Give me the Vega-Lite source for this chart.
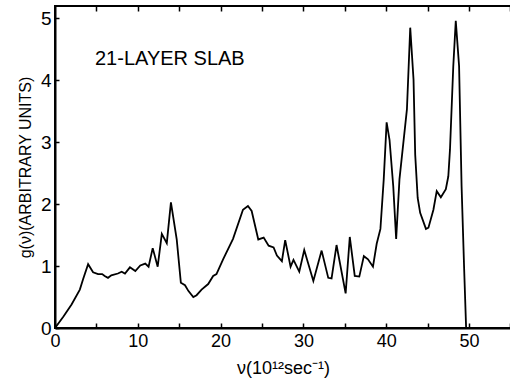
{
  "$schema": "https://vega.github.io/schema/vega-lite/v6.json",
  "width": 456,
  "height": 322,
  "autosize": {"type": "none"},
  "padding": {"left": 55, "top": 6, "right": 0, "bottom": 51},
  "background": "white",
  "config": {
    "view": {"stroke": "black", "strokeWidth": 2},
    "font": "Liberation Sans",
    "axis": {"grid": false, "domainColor": "black", "domainWidth": 2, "tickColor": "black", "tickWidth": 1.5, "labelColor": "black", "titleColor": "black", "labelFont": "Liberation Sans", "titleFont": "Liberation Sans", "titleFontWeight": "normal"}
  },
  "datasets": {
    "g": [
      {"nu": 0, "g": 0}, {"nu": 1, "g": 0.18}, {"nu": 2, "g": 0.38}, {"nu": 3.0, "g": 0.62},
      {"nu": 3.4, "g": 0.79}, {"nu": 4.0, "g": 1.03}, {"nu": 4.6, "g": 0.9}, {"nu": 5.2, "g": 0.87},
      {"nu": 5.7, "g": 0.87}, {"nu": 6.0, "g": 0.84}, {"nu": 6.4, "g": 0.81}, {"nu": 6.8, "g": 0.85},
      {"nu": 7.6, "g": 0.88}, {"nu": 8.05, "g": 0.91}, {"nu": 8.45, "g": 0.88}, {"nu": 9.05, "g": 0.98},
      {"nu": 9.7, "g": 0.92}, {"nu": 10.3, "g": 1.01}, {"nu": 10.9, "g": 1.04}, {"nu": 11.3, "g": 0.99},
      {"nu": 11.8, "g": 1.29}, {"nu": 12.4, "g": 0.99}, {"nu": 12.9, "g": 1.52}, {"nu": 13.5, "g": 1.37},
      {"nu": 14.0, "g": 2.03}, {"nu": 14.7, "g": 1.43}, {"nu": 15.2, "g": 0.73}, {"nu": 15.7, "g": 0.69},
      {"nu": 16.1, "g": 0.6}, {"nu": 16.7, "g": 0.5}, {"nu": 17.1, "g": 0.53}, {"nu": 17.7, "g": 0.62},
      {"nu": 18.5, "g": 0.71}, {"nu": 19.1, "g": 0.84}, {"nu": 19.5, "g": 0.87}, {"nu": 20.3, "g": 1.11},
      {"nu": 21.5, "g": 1.44}, {"nu": 22.7, "g": 1.91}, {"nu": 23.3, "g": 1.97}, {"nu": 23.75, "g": 1.89},
      {"nu": 24.55, "g": 1.43}, {"nu": 25.2, "g": 1.46}, {"nu": 25.8, "g": 1.33}, {"nu": 26.4, "g": 1.3},
      {"nu": 26.8, "g": 1.17}, {"nu": 27.4, "g": 1.08}, {"nu": 27.8, "g": 1.42}, {"nu": 28.45, "g": 0.99},
      {"nu": 28.8, "g": 1.1}, {"nu": 29.5, "g": 0.91}, {"nu": 30.1, "g": 1.26}, {"nu": 31.2, "g": 0.76},
      {"nu": 32.2, "g": 1.25}, {"nu": 33.0, "g": 0.81}, {"nu": 33.4, "g": 0.8}, {"nu": 34.0, "g": 1.34},
      {"nu": 35.1, "g": 0.56}, {"nu": 35.6, "g": 1.47}, {"nu": 36.2, "g": 0.84}, {"nu": 36.75, "g": 0.83},
      {"nu": 37.3, "g": 1.16}, {"nu": 37.8, "g": 1.11}, {"nu": 38.4, "g": 0.99}, {"nu": 38.85, "g": 1.36},
      {"nu": 39.3, "g": 1.6}, {"nu": 39.7, "g": 2.4}, {"nu": 40.05, "g": 3.32}, {"nu": 40.4, "g": 3.04},
      {"nu": 40.85, "g": 2.29}, {"nu": 41.2, "g": 1.44}, {"nu": 41.6, "g": 2.4}, {"nu": 42.5, "g": 3.53},
      {"nu": 42.9, "g": 4.85}, {"nu": 43.3, "g": 4.01}, {"nu": 43.5, "g": 2.8}, {"nu": 43.8, "g": 2.1},
      {"nu": 44.1, "g": 1.86}, {"nu": 44.8, "g": 1.6}, {"nu": 45.1, "g": 1.62}, {"nu": 45.7, "g": 1.91},
      {"nu": 46.1, "g": 2.21}, {"nu": 46.6, "g": 2.11}, {"nu": 47.2, "g": 2.24}, {"nu": 47.5, "g": 2.45},
      {"nu": 47.7, "g": 2.88}, {"nu": 48.1, "g": 4.23}, {"nu": 48.4, "g": 4.96}, {"nu": 48.8, "g": 4.23},
      {"nu": 49.1, "g": 2.3}, {"nu": 49.4, "g": 1.0}, {"nu": 49.65, "g": 0}
    ],
    "label": [{"nu": 4.83, "g": 4.34, "text": "21-LAYER SLAB"}]
  },
  "layer": [
    {
      "data": {"name": "g"},
      "mark": {"type": "line", "color": "black", "strokeWidth": 1.8, "clip": true},
      "encoding": {
        "x": {
          "field": "nu", "type": "quantitative",
          "scale": {"domain": [0, 55.07], "nice": false, "zero": false},
          "axis": {
            "title": "ν(10¹²sec⁻¹)", "titleFontSize": 18, "titlePadding": 9,
            "values": [0, 5, 10, 15, 20, 25, 30, 35, 40, 45, 50, 55],
            "labelExpr": "datum.value % 10 === 0 ? datum.label : ''",
            "labelFontSize": 18, "tickSize": -5, "labelPadding": 9, "labelFlush": false
          }
        },
        "y": {
          "field": "g", "type": "quantitative",
          "scale": {"domain": [0, 5.2], "nice": false},
          "axis": {
            "title": "g(ν)(ARBITRARY UNITS)", "titleFontSize": 16, "titlePadding": 7,
            "values": [0, 1, 2, 3, 4, 5], "format": "d", "labelFontSize": 19, "tickSize": -4, "labelPadding": 8
          }
        }
      }
    },
    {
      "data": {"name": "label"},
      "mark": {"type": "text", "align": "left", "baseline": "middle", "fontSize": 20, "font": "Liberation Sans", "color": "black"},
      "encoding": {
        "x": {"field": "nu", "type": "quantitative", "axis": {"orient": "top", "values": [5, 10, 15, 20, 25, 30, 35, 40, 45, 50, 55], "labels": false, "title": null, "tickSize": -5, "domain": false}},
        "y": {"field": "g", "type": "quantitative"},
        "text": {"field": "text"}
      }
    }
  ],
  "resolve": {"axis": {"x": "independent"}}
}
